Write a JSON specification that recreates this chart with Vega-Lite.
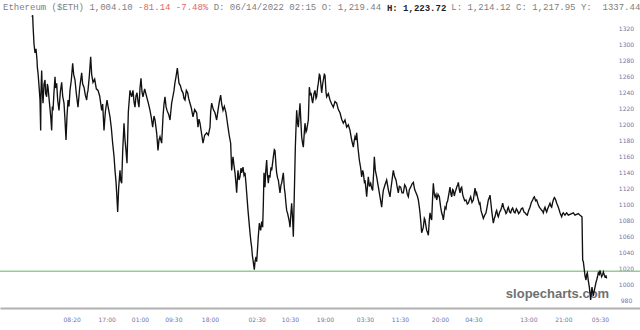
{
  "$schema": "https://vega.github.io/schema/vega-lite/v6.json",
  "width": 640,
  "height": 308,
  "autosize": {"type": "none"},
  "padding": {"left": 0, "right": 0, "top": 0, "bottom": 22},
  "background": "white",
  "title": {
    "text": "Ethereum ($ETH) 1,004.10 \u00a0\u00a0\u00a0\u00a0\u00a0\u00a0\u00a0\u00a0\u00a0\u00a0\u00a0\u00a0\u00a0 D: 06/14/2022 02:15 O: 1,219.44 \u00a0\u00a0\u00a0\u00a0\u00a0\u00a0\u00a0\u00a0\u00a0\u00a0\u00a0 L: 1,214.12 C: 1,217.95 Y:\u00a0\u00a01337.44",
    "subtitle": "\u200b\u00a0\u00a0\u00a0\u00a0\u00a0\u00a0\u00a0\u00a0\u00a0\u00a0\u00a0\u00a0\u00a0\u00a0\u00a0\u00a0\u00a0\u00a0\u00a0\u00a0\u00a0\u00a0\u00a0\u00a0\u00a0-81.14 -7.48%",
    "anchor": "start",
    "frame": "group",
    "orient": "top",
    "offset": -12,
    "dx": 3,
    "font": "Liberation Mono",
    "fontSize": 9,
    "fontWeight": "normal",
    "color": "#808080",
    "subtitleFont": "Liberation Mono",
    "subtitleFontSize": 9,
    "subtitleColor": "#e06666",
    "subtitlePadding": -9
  },
  "config": {"view": {"stroke": null}},
  "datasets": {
    "price": [
      {"b":0,"p":1334},{"b":2,"p":1336},{"b":3,"p":1324},{"b":6,"p":1300},{"b":9,"p":1289},{"b":12,"p":1294},{"b":15,"p":1280},{"b":16,"p":1271},{"b":18,"p":1264},{"b":21,"p":1248},{"b":24,"p":1230},{"b":26,"p":1192},{"b":27,"p":1240},{"b":29,"p":1267},{"b":31,"p":1240},{"b":33,"p":1226},{"b":36,"p":1250},{"b":39,"p":1255},{"b":41,"p":1238},{"b":44,"p":1234},{"b":46,"p":1250},{"b":48,"p":1246},{"b":52,"p":1228},{"b":56,"p":1210},{"b":59,"p":1192},{"b":61,"p":1222},{"b":63,"p":1217},{"b":66,"p":1240},{"b":69,"p":1259},{"b":71,"p":1245},{"b":74,"p":1251},{"b":77,"p":1230},{"b":81,"p":1217},{"b":85,"p":1240},{"b":89,"p":1252},{"b":92,"p":1235},{"b":96,"p":1226},{"b":99,"p":1205},{"b":102,"p":1180},{"b":105,"p":1210},{"b":108,"p":1230},{"b":111,"p":1222},{"b":114,"p":1242},{"b":118,"p":1255},{"b":122,"p":1276},{"b":125,"p":1262},{"b":129,"p":1255},{"b":133,"p":1238},{"b":138,"p":1221},{"b":143,"p":1245},{"b":149,"p":1264},{"b":152,"p":1250},{"b":156,"p":1246},{"b":160,"p":1236},{"b":164,"p":1230},{"b":166,"p":1238},{"b":168,"p":1242},{"b":172,"p":1260},{"b":176,"p":1284},{"b":179,"p":1262},{"b":183,"p":1252},{"b":188,"p":1256},{"b":193,"p":1244},{"b":198,"p":1242},{"b":203,"p":1235},{"b":209,"p":1217},{"b":212,"p":1225},{"b":216,"p":1192},{"b":220,"p":1215},{"b":225,"p":1230},{"b":229,"p":1220},{"b":234,"p":1209},{"b":238,"p":1195},{"b":242,"p":1176},{"b":246,"p":1160},{"b":249,"p":1142},{"b":252,"p":1128},{"b":254,"p":1114},{"b":257,"p":1090},{"b":260,"p":1120},{"b":264,"p":1142},{"b":266,"p":1130},{"b":269,"p":1126},{"b":272,"p":1165},{"b":276,"p":1201},{"b":279,"p":1180},{"b":282,"p":1167},{"b":285,"p":1151},{"b":289,"p":1215},{"b":294,"p":1242},{"b":299,"p":1234},{"b":303,"p":1242},{"b":306,"p":1228},{"b":309,"p":1221},{"b":312,"p":1235},{"b":315,"p":1239},{"b":318,"p":1228},{"b":321,"p":1221},{"b":324,"p":1245},{"b":327,"p":1257},{"b":330,"p":1240},{"b":333,"p":1234},{"b":338,"p":1244},{"b":344,"p":1234},{"b":349,"p":1226},{"b":354,"p":1217},{"b":358,"p":1208},{"b":362,"p":1196},{"b":366,"p":1210},{"b":369,"p":1205},{"b":374,"p":1189},{"b":378,"p":1167},{"b":381,"p":1180},{"b":384,"p":1184},{"b":389,"p":1176},{"b":393,"p":1209},{"b":396,"p":1225},{"b":399,"p":1234},{"b":402,"p":1222},{"b":405,"p":1217},{"b":410,"p":1212},{"b":414,"p":1205},{"b":419,"p":1226},{"b":423,"p":1235},{"b":426,"p":1242},{"b":429,"p":1252},{"b":432,"p":1259},{"b":436,"p":1270},{"b":441,"p":1251},{"b":445,"p":1248},{"b":449,"p":1242},{"b":453,"p":1239},{"b":456,"p":1232},{"b":459,"p":1230},{"b":463,"p":1242},{"b":467,"p":1239},{"b":470,"p":1232},{"b":474,"p":1226},{"b":478,"p":1220},{"b":483,"p":1209},{"b":488,"p":1218},{"b":494,"p":1214},{"b":498,"p":1196},{"b":501,"p":1206},{"b":504,"p":1201},{"b":508,"p":1190},{"b":513,"p":1176},{"b":518,"p":1186},{"b":524,"p":1189},{"b":529,"p":1186},{"b":534,"p":1196},{"b":536,"p":1215},{"b":539,"p":1226},{"b":544,"p":1218},{"b":549,"p":1214},{"b":554,"p":1205},{"b":558,"p":1217},{"b":562,"p":1228},{"b":566,"p":1236},{"b":569,"p":1225},{"b":573,"p":1217},{"b":577,"p":1222},{"b":582,"p":1214},{"b":585,"p":1205},{"b":588,"p":1196},{"b":592,"p":1185},{"b":596,"p":1176},{"b":599,"p":1142},{"b":601,"p":1152},{"b":603,"p":1159},{"b":606,"p":1148},{"b":609,"p":1139},{"b":612,"p":1125},{"b":614,"p":1114},{"b":616,"p":1130},{"b":618,"p":1142},{"b":621,"p":1130},{"b":624,"p":1134},{"b":627,"p":1145},{"b":629,"p":1139},{"b":633,"p":1146},{"b":636,"p":1136},{"b":639,"p":1139},{"b":642,"p":1125},{"b":644,"p":1114},{"b":648,"p":1092},{"b":651,"p":1078},{"b":654,"p":1064},{"b":657,"p":1052},{"b":659,"p":1046},{"b":661,"p":1036},{"b":663,"p":1030},{"b":665,"p":1024},{"b":667,"p":1018},{"b":669,"p":1028},{"b":672,"p":1034},{"b":674,"p":1028},{"b":676,"p":1040},{"b":679,"p":1060},{"b":682,"p":1076},{"b":684,"p":1070},{"b":686,"p":1067},{"b":689,"p":1078},{"b":692,"p":1071},{"b":694,"p":1100},{"b":696,"p":1139},{"b":699,"p":1121},{"b":701,"p":1140},{"b":704,"p":1155},{"b":706,"p":1138},{"b":709,"p":1126},{"b":711,"p":1135},{"b":714,"p":1134},{"b":717,"p":1146},{"b":719,"p":1142},{"b":722,"p":1152},{"b":724,"p":1159},{"b":727,"p":1168},{"b":729,"p":1167},{"b":732,"p":1148},{"b":734,"p":1139},{"b":737,"p":1132},{"b":739,"p":1130},{"b":742,"p":1120},{"b":744,"p":1114},{"b":747,"p":1124},{"b":749,"p":1126},{"b":752,"p":1134},{"b":754,"p":1139},{"b":757,"p":1120},{"b":759,"p":1114},{"b":762,"p":1100},{"b":764,"p":1092},{"b":767,"p":1088},{"b":769,"p":1084},{"b":772,"p":1078},{"b":774,"p":1071},{"b":777,"p":1090},{"b":779,"p":1101},{"b":782,"p":1080},{"b":784,"p":1059},{"b":787,"p":1114},{"b":790,"p":1171},{"b":792,"p":1195},{"b":794,"p":1217},{"b":797,"p":1200},{"b":799,"p":1196},{"b":802,"p":1215},{"b":804,"p":1226},{"b":807,"p":1200},{"b":809,"p":1184},{"b":812,"p":1175},{"b":814,"p":1171},{"b":817,"p":1190},{"b":819,"p":1201},{"b":822,"p":1190},{"b":824,"p":1192},{"b":827,"p":1200},{"b":829,"p":1205},{"b":832,"p":1246},{"b":835,"p":1236},{"b":837,"p":1239},{"b":840,"p":1230},{"b":842,"p":1226},{"b":846,"p":1238},{"b":849,"p":1242},{"b":852,"p":1232},{"b":854,"p":1234},{"b":857,"p":1246},{"b":859,"p":1251},{"b":862,"p":1262},{"b":864,"p":1261},{"b":867,"p":1248},{"b":869,"p":1239},{"b":872,"p":1250},{"b":874,"p":1255},{"b":877,"p":1262},{"b":879,"p":1261},{"b":882,"p":1240},{"b":884,"p":1234},{"b":889,"p":1238},{"b":894,"p":1230},{"b":899,"p":1225},{"b":904,"p":1221},{"b":909,"p":1228},{"b":914,"p":1226},{"b":919,"p":1218},{"b":924,"p":1214},{"b":929,"p":1206},{"b":934,"p":1201},{"b":939,"p":1205},{"b":944,"p":1196},{"b":949,"p":1199},{"b":954,"p":1192},{"b":959,"p":1180},{"b":964,"p":1171},{"b":967,"p":1180},{"b":969,"p":1184},{"b":972,"p":1180},{"b":974,"p":1189},{"b":978,"p":1170},{"b":982,"p":1155},{"b":986,"p":1145},{"b":989,"p":1134},{"b":992,"p":1142},{"b":994,"p":1139},{"b":997,"p":1128},{"b":999,"p":1130},{"b":1002,"p":1118},{"b":1004,"p":1109},{"b":1007,"p":1125},{"b":1009,"p":1134},{"b":1012,"p":1122},{"b":1016,"p":1126},{"b":1019,"p":1120},{"b":1022,"p":1117},{"b":1025,"p":1140},{"b":1027,"p":1159},{"b":1030,"p":1142},{"b":1034,"p":1134},{"b":1038,"p":1124},{"b":1042,"p":1114},{"b":1046,"p":1104},{"b":1049,"p":1096},{"b":1052,"p":1110},{"b":1054,"p":1117},{"b":1059,"p":1124},{"b":1064,"p":1130},{"b":1069,"p":1118},{"b":1074,"p":1109},{"b":1077,"p":1120},{"b":1079,"p":1126},{"b":1082,"p":1136},{"b":1084,"p":1142},{"b":1088,"p":1134},{"b":1092,"p":1130},{"b":1096,"p":1120},{"b":1099,"p":1114},{"b":1102,"p":1122},{"b":1106,"p":1121},{"b":1110,"p":1114},{"b":1114,"p":1114},{"b":1118,"p":1124},{"b":1122,"p":1121},{"b":1126,"p":1112},{"b":1129,"p":1109},{"b":1132,"p":1118},{"b":1136,"p":1121},{"b":1140,"p":1125},{"b":1144,"p":1127},{"b":1148,"p":1118},{"b":1152,"p":1114},{"b":1156,"p":1110},{"b":1159,"p":1105},{"b":1162,"p":1096},{"b":1164,"p":1089},{"b":1167,"p":1075},{"b":1169,"p":1064},{"b":1172,"p":1068},{"b":1174,"p":1071},{"b":1177,"p":1082},{"b":1179,"p":1080},{"b":1182,"p":1072},{"b":1184,"p":1067},{"b":1187,"p":1064},{"b":1189,"p":1061},{"b":1192,"p":1080},{"b":1194,"p":1089},{"b":1197,"p":1082},{"b":1199,"p":1080},{"b":1202,"p":1110},{"b":1204,"p":1126},{"b":1207,"p":1112},{"b":1209,"p":1109},{"b":1212,"p":1112},{"b":1214,"p":1105},{"b":1218,"p":1112},{"b":1222,"p":1109},{"b":1226,"p":1096},{"b":1229,"p":1089},{"b":1232,"p":1085},{"b":1234,"p":1080},{"b":1237,"p":1090},{"b":1239,"p":1096},{"b":1242,"p":1094},{"b":1244,"p":1101},{"b":1247,"p":1104},{"b":1249,"p":1109},{"b":1252,"p":1116},{"b":1254,"p":1121},{"b":1257,"p":1112},{"b":1259,"p":1109},{"b":1262,"p":1118},{"b":1264,"p":1117},{"b":1267,"p":1110},{"b":1269,"p":1114},{"b":1272,"p":1118},{"b":1274,"p":1121},{"b":1277,"p":1124},{"b":1279,"p":1127},{"b":1282,"p":1118},{"b":1284,"p":1114},{"b":1287,"p":1120},{"b":1289,"p":1121},{"b":1292,"p":1112},{"b":1294,"p":1109},{"b":1298,"p":1104},{"b":1302,"p":1105},{"b":1306,"p":1100},{"b":1309,"p":1101},{"b":1313,"p":1106},{"b":1316,"p":1109},{"b":1320,"p":1102},{"b":1324,"p":1105},{"b":1327,"p":1114},{"b":1329,"p":1120},{"b":1332,"p":1112},{"b":1334,"p":1114},{"b":1337,"p":1108},{"b":1339,"p":1105},{"b":1342,"p":1100},{"b":1344,"p":1101},{"b":1347,"p":1092},{"b":1349,"p":1089},{"b":1352,"p":1085},{"b":1354,"p":1082},{"b":1358,"p":1086},{"b":1362,"p":1089},{"b":1366,"p":1098},{"b":1369,"p":1105},{"b":1372,"p":1108},{"b":1374,"p":1111},{"b":1377,"p":1100},{"b":1379,"p":1092},{"b":1382,"p":1082},{"b":1384,"p":1076},{"b":1387,"p":1082},{"b":1389,"p":1084},{"b":1392,"p":1090},{"b":1394,"p":1092},{"b":1397,"p":1086},{"b":1399,"p":1084},{"b":1403,"p":1090},{"b":1406,"p":1092},{"b":1409,"p":1096},{"b":1412,"p":1101},{"b":1416,"p":1094},{"b":1419,"p":1092},{"b":1422,"p":1088},{"b":1424,"p":1089},{"b":1427,"p":1094},{"b":1429,"p":1096},{"b":1433,"p":1090},{"b":1436,"p":1089},{"b":1439,"p":1093},{"b":1442,"p":1095},{"b":1446,"p":1090},{"b":1449,"p":1089},{"b":1453,"p":1094},{"b":1456,"p":1092},{"b":1460,"p":1088},{"b":1464,"p":1090},{"b":1468,"p":1094},{"b":1472,"p":1095},{"b":1476,"p":1090},{"b":1479,"p":1089},{"b":1483,"p":1087},{"b":1486,"p":1086},{"b":1490,"p":1092},{"b":1494,"p":1096},{"b":1498,"p":1102},{"b":1502,"p":1105},{"b":1505,"p":1108},{"b":1507,"p":1109},{"b":1511,"p":1104},{"b":1514,"p":1105},{"b":1518,"p":1100},{"b":1522,"p":1096},{"b":1526,"p":1094},{"b":1529,"p":1092},{"b":1532,"p":1091},{"b":1534,"p":1089},{"b":1537,"p":1094},{"b":1539,"p":1096},{"b":1542,"p":1092},{"b":1544,"p":1090},{"b":1547,"p":1094},{"b":1549,"p":1096},{"b":1552,"p":1099},{"b":1554,"p":1101},{"b":1557,"p":1097},{"b":1559,"p":1096},{"b":1562,"p":1102},{"b":1564,"p":1105},{"b":1567,"p":1108},{"b":1569,"p":1107},{"b":1572,"p":1104},{"b":1574,"p":1101},{"b":1577,"p":1098},{"b":1579,"p":1096},{"b":1582,"p":1092},{"b":1584,"p":1089},{"b":1587,"p":1086},{"b":1589,"p":1084},{"b":1592,"p":1088},{"b":1594,"p":1089},{"b":1597,"p":1087},{"b":1599,"p":1086},{"b":1602,"p":1088},{"b":1604,"p":1089},{"b":1609,"p":1086},{"b":1614,"p":1087},{"b":1619,"p":1088},{"b":1624,"p":1089},{"b":1629,"p":1086},{"b":1634,"p":1087},{"b":1639,"p":1088},{"b":1644,"p":1086},{"b":1647,"p":1085},{"b":1650,"p":1084},{"b":1652,"p":1030},{"b":1654,"p":1028},{"b":1656,"p":1021},{"b":1659,"p":1010},{"b":1662,"p":1005},{"b":1664,"p":1012},{"b":1666,"p":1014},{"b":1669,"p":1004},{"b":1672,"p":996},{"b":1674,"p":988},{"b":1676,"p":980},{"b":1678,"p":990},{"b":1680,"p":996},{"b":1682,"p":990},{"b":1684,"p":985},{"b":1687,"p":992},{"b":1689,"p":996},{"b":1692,"p":1002},{"b":1694,"p":1005},{"b":1697,"p":1010},{"b":1699,"p":1014},{"b":1702,"p":1012},{"b":1704,"p":1017},{"b":1707,"p":1012},{"b":1709,"p":1009},{"b":1712,"p":1012},{"b":1714,"p":1015},{"b":1717,"p":1011},{"b":1719,"p":1009},{"b":1722,"p":1010},{"b":1724,"p":1007}
    ],
    "level": [{"p": 1016}]
  },
  "encoding": {
    "y": {
      "field": "p", "type": "quantitative",
      "scale": {"domain": [970, 1355], "nice": false, "zero": false},
      "axis": {
        "orient": "right",
        "title": "H: 1,223.72",
        "titleFont": "Liberation Mono", "titleFontSize": 9, "titleFontWeight": "bold", "titleColor": "#222222",
        "titleAngle": 0, "titleX": -253.6, "titleY": 10, "titleAlign": "left", "titleBaseline": "alphabetic", "titleAnchor": null,
        "values": [980, 1000, 1020, 1040, 1060, 1080, 1100, 1120, 1140, 1160, 1180, 1200, 1220, 1240, 1260, 1280, 1300, 1320],
        "format": "d",
        "grid": false, "ticks": false, "domain": false,
        "labelFont": "DejaVu Sans", "labelFontSize": 6, "labelColor": "#7474a8",
        "labelPadding": -14, "labelAlign": "center", "labelOverlap": false, "labelFlush": false
      }
    }
  },
  "layer": [
    {
      "data": {"name": "level"},
      "mark": {"type": "rule", "color": "#96cc96", "strokeWidth": 1.5}
    },
    {
      "data": {"name": "price"},
      "mark": {"type": "line", "color": "#111111", "strokeWidth": 1.35},
      "encoding": {
        "x": {
          "field": "b", "type": "quantitative",
          "scale": {"domain": [-96, 1824], "nice": false, "zero": false},
          "axis": {
            "title": "slopecharts.com",
            "titleFont": "Liberation Sans", "titleFontSize": 13, "titleFontWeight": "bold", "titleColor": "#707070",
            "titleX": 557, "titleY": -11, "titleAlign": "center", "titleBaseline": "alphabetic", "titleAnchor": null,
            "values": [119, 224, 324, 424, 534, 674, 774, 879, 999, 1104, 1224, 1324, 1489, 1594, 1704],
            "labelExpr": "{'119':'08:20','224':'17:00','324':'01:00','424':'09:30','534':'18:00','674':'02:30','774':'10:30','879':'19:00','999':'03:30','1104':'11:30','1224':'20:00','1324':'04:30','1489':'13:00','1594':'21:00','1704':'05:30'}[datum.value + '']",
            "grid": false, "ticks": false,
            "domain": true, "domainColor": "#b0b0b0", "domainWidth": 2,
            "labelFont": "DejaVu Sans", "labelFontSize": 6, "labelColor": "#7474a8", "labelPadding": 8,
            "labelOverlap": false, "labelFlush": false
          }
        }
      }
    }
  ]
}
